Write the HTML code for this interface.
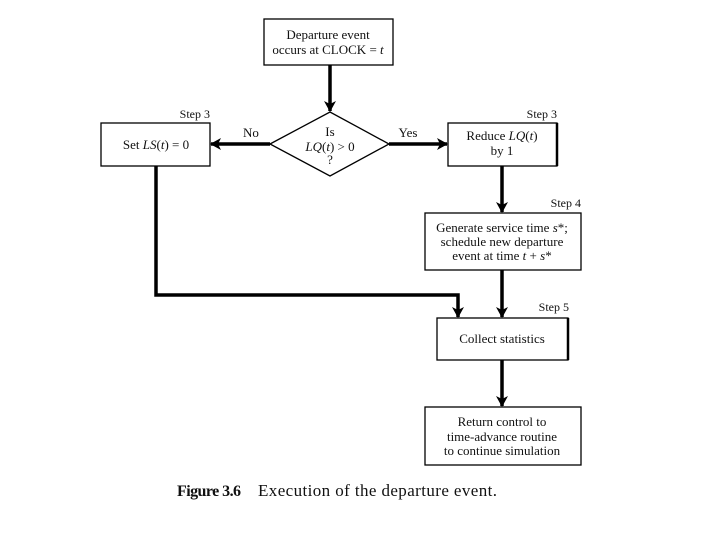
<!DOCTYPE html>
<html><head><style>
html,body{margin:0;padding:0;background:#fff;}
svg{display:block;}
text{font-family:"Liberation Serif",serif;fill:#111;}
</style></head><body>
<svg width="720" height="540" viewBox="0 0 720 540" xmlns="http://www.w3.org/2000/svg">
<defs>
<marker id="a" markerWidth="11" markerHeight="12" refX="10" refY="6" orient="auto" markerUnits="userSpaceOnUse">
<path d="M0,0 L11,6 L0,12 L3,6 z" fill="#000"/>
</marker>
</defs>
<g fill="#fff" stroke="#000" stroke-width="1.3">
<rect x="264" y="19" width="129" height="46"/>
<polygon points="270,144 330,112 389,144 330,176"/>
<rect x="101" y="123" width="109" height="43"/>
<rect x="448" y="123" width="109" height="43"/>
<rect x="425" y="213" width="156" height="57"/>
<rect x="437" y="318" width="131" height="42"/>
<rect x="425" y="407" width="156" height="58"/>
</g>
<line x1="557" y1="123" x2="557" y2="166" stroke="#000" stroke-width="2.5"/>
<line x1="568" y1="318" x2="568" y2="360" stroke="#000" stroke-width="2.5"/>
<g stroke="#000" stroke-width="3.5" fill="none">
<line x1="330" y1="65" x2="330" y2="111" marker-end="url(#a)"/>
<line x1="270" y1="144" x2="211" y2="144" marker-end="url(#a)"/>
<line x1="389" y1="144" x2="447" y2="144" marker-end="url(#a)"/>
<line x1="502" y1="166" x2="502" y2="212" marker-end="url(#a)"/>
<line x1="502" y1="270" x2="502" y2="317" marker-end="url(#a)"/>
<line x1="502" y1="360" x2="502" y2="406" marker-end="url(#a)"/>
<polyline points="156,166 156,295 458,295 458,317" marker-end="url(#a)"/>
</g>
<g font-size="13" text-anchor="middle">
<text x="328" y="39">Departure event</text>
<text x="328" y="54">occurs at CLOCK = <tspan font-style="italic">t</tspan></text>
<text x="330" y="136">Is</text>
<text x="330" y="151"><tspan font-style="italic">LQ</tspan>(<tspan font-style="italic">t</tspan>) &gt; 0</text>
<text x="330" y="164">?</text>
<text x="156" y="149">Set <tspan font-style="italic">LS</tspan>(<tspan font-style="italic">t</tspan>) = 0</text>
<text x="502" y="140">Reduce <tspan font-style="italic">LQ</tspan>(<tspan font-style="italic">t</tspan>)</text>
<text x="502" y="155">by 1</text>
<text x="251" y="137">No</text>
<text x="408" y="137">Yes</text>
<text x="502" y="232">Generate service time <tspan font-style="italic">s</tspan>*;</text>
<text x="502" y="246">schedule new departure</text>
<text x="502" y="260">event at time <tspan font-style="italic">t</tspan> + <tspan font-style="italic">s</tspan>*</text>
<text x="502" y="343">Collect statistics</text>
<text x="502" y="426">Return control to</text>
<text x="502" y="441">time-advance routine</text>
<text x="502" y="455">to continue simulation</text>
</g>
<g font-size="12" text-anchor="end">
<text x="210" y="118">Step 3</text>
<text x="557" y="118">Step 3</text>
<text x="581" y="207">Step 4</text>
<text x="569" y="311">Step 5</text>
</g>
<text x="177" y="496" font-size="16" font-weight="bold" textLength="64" lengthAdjust="spacing">Figure 3.6</text>
<text x="258" y="496" font-size="17" textLength="239" lengthAdjust="spacing">Execution of the departure event.</text>
</svg>
</body></html>
